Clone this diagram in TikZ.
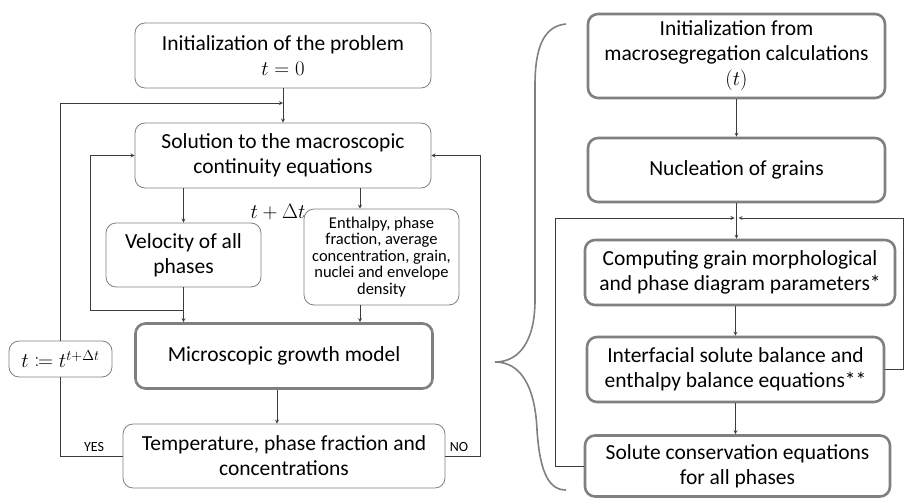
\documentclass[tikz,border=0pt]{standalone}
\usepackage{mathtools}
\usepackage{fontspec}
\setmainfont{Carlito}
\usetikzlibrary{arrows}

\begin{document}
\begin{tikzpicture}[x=1pt,y=-1pt]
    \definecolor{box_gray}{RGB}{128, 128, 128}
    \definecolor{line_gray}{RGB}{60, 60, 60}
    \tikzset{
        box/.style={draw=box_gray, line width=0.8pt, rounded corners=10pt, align=center,
            inner sep=0pt, font=\fontsize{21.5}{25}\selectfont},
        thickbox/.style={box, line width=2.6pt},
        arr/.style={->, >=stealth, draw=line_gray, line width=0.8pt},
        ln/.style={draw=line_gray, line width=0.8pt},
        lab/.style={font=\fontsize{14}{16}\selectfont}
    }
    \useasboundingbox (0,0) rectangle (904,498);

    % Left: macroscopic loop
    \node[box, minimum width=296pt, minimum height=65pt] (init) at (283,55.5)
        {Initialization of the problem\\$t=0$};
    \node[box, minimum width=296pt, minimum height=65pt] (sol) at (283,155.5)
        {Solution to the macroscopic\\continuity equations};
    \node[box, minimum width=155pt, minimum height=64pt] (vel) at (183.5,255)
        {Velocity of all\\phases};
    \node[box, minimum width=155pt, minimum height=96pt, font=\fontsize{16.5}{16.5}\selectfont] (enth) at (381.5,257)
        {Enthalpy, phase\\fraction, average\\concentration, grain,\\nuclei and envelope\\density};
    \node[thickbox, minimum width=297pt, minimum height=65pt] (micro) at (284,356)
        {Microscopic growth model};
    \node[box, minimum width=322pt, minimum height=64pt] (temp) at (284,456)
        {Temperature, phase fraction and\\concentrations};
    \node[box, minimum width=103pt, minimum height=36pt] (tbox) at (60.5,359)
        {$t \coloneqq t^{t+\Delta t}$};
    \node[font=\fontsize{20}{25}\selectfont] (dt) at (278,212) {$t+\Delta t$};
    \node[lab] (yes) at (94,447) {YES};
    \node[lab] (no) at (459,447) {NO};

    \coordinate (ex) at (360,0);
    \coordinate (topjoin) at (283,103);
    \coordinate (velmid) at (183.5,310);
    \coordinate (innerc) at (90,155.5);
    \coordinate (noc) at (480,456);

    \draw[arr] (init) -- (sol);
    \draw[arr] (vel.north |- sol.south) -- (vel.north);
    \draw[arr] (sol.south -| ex) -- (enth.north -| ex);
    \draw[arr] (vel.south) -- (vel.south |- micro.north);
    \draw[arr] (enth.south -| ex) -- (micro.north -| ex);
    \draw[arr] ([xshift=-7pt]micro.south) -- ([xshift=-7pt]micro.south |- temp.north);
    \draw[arr] (velmid) -| (innerc) -- (sol.west); % back to the macro solver
    \draw[arr] (temp.east) -- (noc) |- (sol.east);
    \draw[ln] (temp.west) -| (tbox.south);
    \draw[arr] (tbox.north) |- (topjoin);

    % Brace
    \draw[draw=box_gray, line width=1.6pt] (566,24) .. controls (545,26) and (535,45) .. (535,85)
        -- (535,300) .. controls (535,340) and (520,362) .. (495,362)
        .. controls (520,362) and (535,385) .. (537,430)
        .. controls (540,475) and (550,490) .. (566,490);

    % Right: microscopic model
    \node[thickbox, minimum width=297pt, minimum height=84pt] (rinit) at (736.5,56)
        {Initialization from\\macrosegregation calculations\\$(t)$};
    \node[thickbox, minimum width=297pt, minimum height=64pt] (nuc) at (736.5,170)
        {Nucleation of grains};
    \node[thickbox, minimum width=310pt, minimum height=65pt] (comp) at (740,272.5)
        {Computing grain morphological\\and phase diagram parameters*};
    \node[thickbox, minimum width=297pt, minimum height=65pt] (inter) at (735.5,369.5)
        {Interfacial solute balance and\\enthalpy balance equations**};
    \node[thickbox, minimum width=305pt, minimum height=61pt] (solute) at (737.5,466)
        {Solute conservation equations\\for all phases};

    \coordinate (junc) at (736.5,218);
    \coordinate (lc) at (555,466);
    \coordinate (rc) at (903,369.5);

    \draw[arr] (rinit.south) -- (nuc.north);
    \draw[arr] (nuc.south) -- (nuc.south |- comp.north);
    \draw[arr] (comp.south -| inter.north) -- (inter.north);
    \draw[arr] (inter.south) -- (inter.south |- solute.north);
    \draw[arr, shorten >=2pt] (solute.west) -- (lc) |- (junc);
    \draw[arr, shorten >=2pt] (inter.east) -- (rc) |- (junc);
\end{tikzpicture}
\end{document}
